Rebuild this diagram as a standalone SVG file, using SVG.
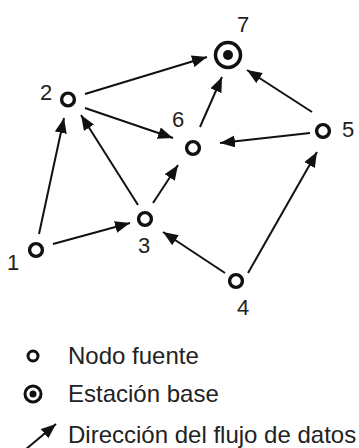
<svg xmlns="http://www.w3.org/2000/svg" width="359" height="448" viewBox="0 0 359 448">
<style>
.node{fill:none;stroke:#111;stroke-width:3.4}
.dot{fill:#111}
.lbl{font-family:"Liberation Sans",Arial,sans-serif;font-size:22px;fill:#222;text-anchor:middle}
.leg{font-family:"Liberation Sans",Arial,sans-serif;font-size:24px;fill:#222}
.edge{stroke:#111;stroke-width:2;fill:none;marker-end:url(#ah)}
</style>
<defs>
<marker id="ah" markerUnits="userSpaceOnUse" markerWidth="15" markerHeight="12" refX="15" refY="6" orient="auto">
<path d="M0,0 L15,6 L0,12 z" fill="#111"/>
</marker>
</defs>
<rect width="359" height="448" fill="#fff"/>
<g id="connectors">
<line class="edge" x1="39" y1="234" x2="64" y2="118"/>
<line class="edge" x1="138" y1="205" x2="81" y2="115"/>
<line class="edge" x1="85" y1="94" x2="207" y2="57"/>
<line class="edge" x1="85" y1="108" x2="173" y2="138"/>
<line class="edge" x1="53" y1="244" x2="130" y2="223"/>
<line class="edge" x1="153" y1="203" x2="178" y2="165"/>
<line class="edge" x1="225" y1="273" x2="163" y2="232"/>
<line class="edge" x1="248" y1="273" x2="317" y2="152"/>
<line class="edge" x1="312" y1="112" x2="247" y2="70"/>
<line class="edge" x1="310" y1="133" x2="220" y2="143"/>
<line class="edge" x1="200" y1="127" x2="222" y2="77"/>
</g>
<g id="node1"><circle class="node" cx="36" cy="250" r="6.4"/><text class="lbl" x="13" y="270">1</text></g>
<g id="node2"><circle class="node" cx="68" cy="99.5" r="6.4"/><text class="lbl" x="46" y="100">2</text></g>
<g id="node3"><circle class="node" cx="145" cy="219" r="6.4"/><text class="lbl" x="144" y="253">3</text></g>
<g id="node4"><circle class="node" cx="236" cy="281" r="6.4"/><text class="lbl" x="243" y="315">4</text></g>
<g id="node5"><circle class="node" cx="323" cy="131" r="6.4"/><text class="lbl" x="348" y="137">5</text></g>
<g id="node6"><circle class="node" cx="193" cy="148" r="6.4"/><text class="lbl" x="178" y="127">6</text></g>
<g id="node7"><circle class="node" cx="228" cy="55" r="12.5" style="stroke-width:3.5"/><circle class="dot" cx="228" cy="55" r="5"/><text class="lbl" x="243" y="32">7</text></g>
<g id="legend">
<circle class="node" cx="33" cy="356" r="5" style="stroke-width:3"/>
<text class="leg" x="68" y="364">Nodo fuente</text>
<circle class="node" cx="33" cy="394" r="8" style="stroke-width:3"/>
<circle class="dot" cx="33" cy="394" r="3.5"/>
<text class="leg" x="68" y="402">Estación base</text>
<line class="edge" x1="25" y1="450" x2="56" y2="424"/>
<text class="leg" x="68" y="443">Dirección del flujo de datos</text>
</g>
</svg>
